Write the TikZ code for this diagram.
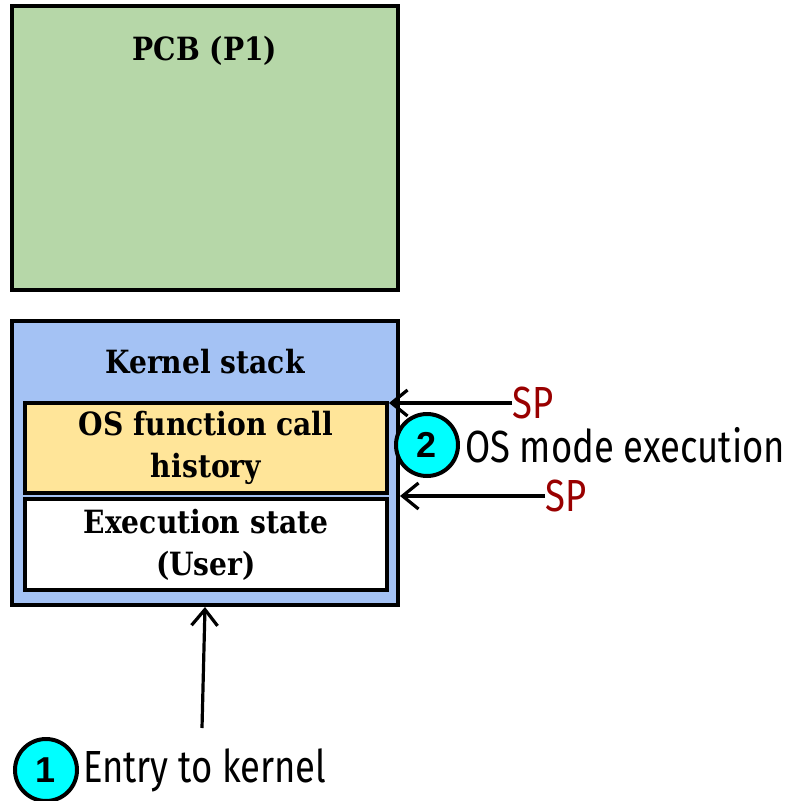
\documentclass[tikz,border=0pt]{standalone}
\usepackage{fontspec}
\setmainfont{Fira Sans}[FakeStretch=0.81]
\newfontfamily\boxfont{DejaVu Serif}[FakeStretch=0.88]
\newfontfamily\numfont{Liberation Sans}
\usetikzlibrary{arrows.meta,positioning}
\definecolor{pcbgreen}{HTML}{B6D7A8}
\definecolor{stackblue}{HTML}{A4C2F4}
\definecolor{callyellow}{HTML}{FFE599}
\definecolor{spred}{HTML}{990000}
\definecolor{stepcyan}{HTML}{00FFFF}
\tikzset{
    region/.style  = {draw=black, line width=4pt, minimum width=386pt, minimum height=284pt, inner sep=0pt},
    frame/.style   = {draw=black, line width=4pt, minimum width=362pt, inner sep=0pt},
    boxtext/.style = {font=\boxfont\bfseries\fontsize{32}{42}\selectfont, align=center},
    note/.style    = {font=\fontsize{45}{50}\selectfont, inner sep=0pt},
    sptext/.style  = {note, text=spred},
    badge/.style   = {circle, draw=black, line width=4pt, fill=stepcyan, minimum size=62pt, inner sep=0pt,
                      font=\numfont\bfseries\fontsize{36}{36}\selectfont},
    arr/.style     = {-{Straight Barb[length=16pt,width=26pt]}, line width=3.2pt},
}

\begin{document}
\begin{tikzpicture}[x=1pt, y=-1pt]
    \useasboundingbox (0,0) rectangle (791,801);
    % process control block
    \node [region, fill=pcbgreen] (pcb) at (205,148) {};
    \node [boxtext, anchor=base] (pcbtitle) at (205,60) {PCB (P1)};
    % kernel stack with its two frames
    \node [region, fill=stackblue] (stack) at (205,463) {};
    \node [boxtext, anchor=base] (stacktitle) at (205,373) {Kernel stack};
    \node [frame, boxtext, fill=callyellow, minimum height=90pt] (calls) at (206,448) {OS function call\\history};
    \node [frame, boxtext, fill=white, minimum height=91pt] (exec) at (206,544.5) {Execution state\\(User)};
    % stack pointers
    \node [sptext, anchor=west] (spA) at (512,403) {SP};
    \draw [arr] (spA.west) -- (spA.west -| calls.east);
    \node [sptext, anchor=west] (spB) at (545,496) {SP};
    \draw [arr] (spB.west) -- (spB.west -| stack.east);
    % steps
    \node [badge] (two) at (427,445) {2};
    \node [note, right=5pt of two] (osmode) {OS mode execution};
    \node [badge] (one) at (46,770) {1};
    \node [note, right=4pt of one] (entry) {Entry to kernel};
    \coordinate (entrytail) at (202,728);
    \draw [arr] (entrytail) -- (stack.south);
\end{tikzpicture}
\end{document}
